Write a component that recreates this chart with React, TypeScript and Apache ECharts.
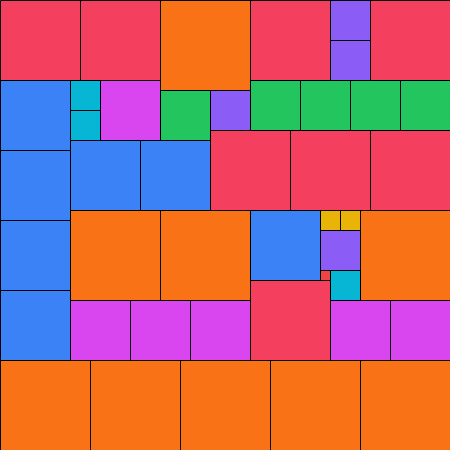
import React, { useEffect, useRef } from "react";
import * as echarts from "echarts";

// Partridge packing: squares of side 1..9 (n copies of side n) in a 45x45 square
const sizes = [9, 9, 9, 9, 9, 9, 9, 9, 9, 8, 8, 8, 8, 8, 8, 8, 8, 7, 7, 7, 7, 7, 7, 7, 6, 6, 6, 6, 6, 6, 5, 5, 5, 5, 5, 4, 4, 4, 4, 3, 3, 3, 2, 2, 1];
const xs = [16, 7, 16, 36, 0, 9, 18, 27, 36, 0, 8, 25, 37, 21, 29, 37, 25, 0, 0, 0, 0, 7, 14, 25, 10, 7, 13, 19, 33, 39, 16, 25, 30, 35, 40, 33, 33, 21, 32, 7, 7, 33, 32, 34, 32];
const ys = [0, 21, 21, 21, 36, 36, 36, 36, 36, 0, 0, 0, 0, 13, 13, 13, 28, 8, 15, 22, 29, 14, 14, 21, 8, 30, 30, 30, 30, 30, 9, 8, 8, 8, 8, 0, 4, 9, 23, 8, 11, 27, 21, 21, 27];
const sizeColors: Record<number, string> = {
  1: "#ef4444",
  2: "#eab308",
  3: "#06b6d4",
  4: "#8b5cf6",
  5: "#22c55e",
  6: "#d946ef",
  7: "#3b82f6",
  8: "#f43f5e",
  9: "#f97316",
};
const side = 45;

export default function App() {
  const ref = useRef<HTMLDivElement>(null);
  useEffect(() => {
    if (!ref.current) return;
    const chart = echarts.init(ref.current, undefined, { renderer: "svg" });
    const data = sizes.map((s, i) => [xs[i], ys[i], s]);
    chart.setOption({
      animation: false,
      grid: { left: 0, right: 0, top: 0, bottom: 0 },
      xAxis: { type: "value", min: 0, max: side, show: false },
      yAxis: { type: "value", min: 0, max: side, inverse: true, show: false },
      series: [
        {
          type: "custom",
          data,
          renderItem: (params: any, api: any) => {
            const x = api.value(0);
            const y = api.value(1);
            const s = api.value(2);
            const p0 = api.coord([x, y]);
            const p1 = api.coord([x + s, y + s]);
            return {
              type: "rect",
              shape: {
                x: Math.min(p0[0], p1[0]) + 0.5,
                y: Math.min(p0[1], p1[1]) + 0.5,
                width: Math.abs(p1[0] - p0[0]),
                height: Math.abs(p1[1] - p0[1]),
              },
              style: { fill: sizeColors[s], stroke: "#000", lineWidth: 1 },
            };
          },
        },
      ],
    });
    return () => chart.dispose();
  }, []);
  return (
    <div
      ref={ref}
      style={{ position: "fixed", left: 0, top: 0, width: 450, height: 450, background: "#fff" }}
    />
  );
}
